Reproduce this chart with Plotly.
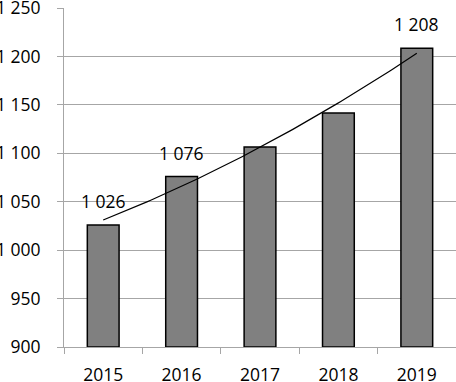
import numpy as np
import plotly.graph_objects as go

years = ["2015", "2016", "2017", "2018", "2019"]
values = [1026, 1076, 1106.5, 1141.5, 1208.5]
labels = ["1 026", "1 076", "", "", "1 208"]
y_ticks = [900, 950, 1000, 1050, 1100, 1150, 1200, 1250]

pos = np.arange(len(years))
coef = np.polyfit(pos, values, 2)
tx = np.linspace(pos[0], pos[-1], 100)
ty = np.polyval(coef, tx)

fig = go.Figure()
fig.add_trace(go.Bar(x=pos, y=[v - 900 for v in values], base=900,
                     marker=dict(color="#808080", line=dict(color="#000000", width=1.5)),
                     width=0.405, hoverinfo="skip"))
fig.add_trace(go.Scatter(x=tx, y=ty, mode="lines",
                         line=dict(color="#000000", width=1.2), hoverinfo="skip"))

for p, v, t in zip(pos, values, labels):
    if t:
        fig.add_annotation(x=p, y=v, text=t, showarrow=False, yanchor="bottom",
                           yshift=10, font=dict(size=17.5, color="#000000"))

fig.update_layout(
    width=456, height=382,
    margin=dict(l=64, r=0, t=8, b=35),
    paper_bgcolor="white", plot_bgcolor="white",
    showlegend=False,
    separators=". ",
    font=dict(family="Open Sans, Liberation Sans, sans-serif", size=17.5, color="#000000"),
    xaxis=dict(range=[-0.5, 4.5], tickvals=list(pos), ticktext=years, ticks="",
               showgrid=False, zeroline=False, showline=True, linecolor="#a6a6a6",
               linewidth=1, tickfont=dict(size=17.5), automargin=False,
               ticklabelstandoff=12,
               minor=dict(tickvals=[-0.5, 0.5, 1.5, 2.5, 3.5, 4.5], ticks="outside",
                          ticklen=6, tickcolor="#a6a6a6", showgrid=False)),
    yaxis=dict(range=[900, 1250], tickvals=y_ticks, tickformat=",d", ticks="outside",
               ticklen=6, tickcolor="#a6a6a6", showgrid=True, gridcolor="#a6a6a6",
               gridwidth=1, zeroline=False, showline=True, linecolor="#a6a6a6",
               linewidth=1, tickfont=dict(size=17.5), ticklabelstandoff=13,
               automargin=False, ticklabeloverflow="allow"),
)

fig.write_html("out.html", config={"displayModeBar": False},
               post_script="document.body.style.margin='0';document.body.style.overflow='hidden';")
